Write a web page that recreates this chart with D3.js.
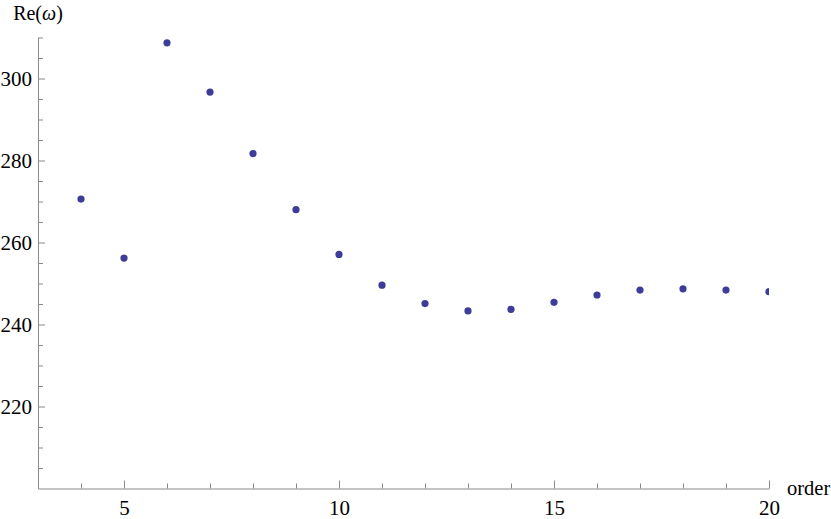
<!DOCTYPE html>
<html>
<head>
<meta charset="utf-8">
<script src="https://cdn.jsdelivr.net/npm/d3@7"></script>
<style>
  body { margin: 0; background: #fff; }
  svg text { font-family: "Liberation Serif", "Times New Roman", serif; fill: #000; }
  .axis path, .axis line { stroke: #8a8a8a; }
</style>
</head>
<body>
<div id="chart"></div>
<script>
// data
const order = [4, 5, 6, 7, 8, 9, 10, 11, 12, 13, 14, 15, 16, 17, 18, 19, 20];
const reOmega = [270.6, 256.2, 308.7, 296.7, 281.7, 268.0, 257.1, 249.6, 245.1,
                 243.3, 243.7, 245.4, 247.2, 248.4, 248.7, 248.4, 248.0];
const xMajor = [5, 10, 15, 20];
const xMinor = [4, 6, 7, 8, 9, 11, 12, 13, 14, 16, 17, 18, 19];
const yMajor = [220, 240, 260, 280, 300];
const yMinor = [205, 210, 215, 225, 230, 235, 245, 250, 255, 265, 270, 275, 285, 290, 295, 305, 310];

const W = 831, H = 519;
const x = d3.scaleLinear().domain([3, 20]).range([38, 769]);
const y = d3.scaleLinear().domain([200, 310]).range([488.5, 37.5]);

const svg = d3.select("#chart").append("svg")
    .attr("width", W)
    .attr("height", H);

svg.append("clipPath").attr("id", "clip")
  .append("rect")
    .attr("x", x(3)).attr("y", 0)
    .attr("width", x(20) - x(3)).attr("height", y(200));

// points
svg.append("g")
    .attr("clip-path", "url(#clip)")
  .selectAll("circle")
  .data(order)
  .join("circle")
    .attr("cx", d => x(d))
    .attr("cy", (d, i) => y(reOmega[i]))
    .attr("r", 3.6)
    .attr("fill", "#3d3d99");

// x axis
svg.append("g")
    .attr("class", "axis")
    .attr("transform", "translate(0," + y(200) + ")")
    .call(d3.axisBottom(x).tickValues(xMinor).tickSize(-5).tickFormat(""))
    .call(g => g.select(".domain").remove());

svg.append("g")
    .attr("class", "axis")
    .attr("transform", "translate(0," + y(200) + ")")
    .call(d3.axisBottom(x).tickValues(xMajor).tickSize(-8).tickSizeOuter(0).tickPadding(11.5))
    .selectAll("text")
    .attr("font-size", 21);

// y axis
svg.append("g")
    .attr("class", "axis")
    .attr("transform", "translate(" + x(3) + ",0)")
    .call(d3.axisLeft(y).tickValues(yMinor).tickSize(-5).tickFormat(""))
    .call(g => g.select(".domain").remove());

svg.append("g")
    .attr("class", "axis")
    .attr("transform", "translate(" + x(3) + ",0)")
    .call(d3.axisLeft(y).tickValues(yMajor).tickSize(-7).tickSizeOuter(0).tickPadding(6))
    .selectAll("text")
    .attr("font-size", 21);

svg.selectAll(".axis text").attr("fill", "#000").attr("font-family", "Liberation Serif, serif");

// axis labels
const yl = svg.append("text")
    .attr("x", x(3))
    .attr("y", 20)
    .attr("text-anchor", "middle")
    .attr("font-size", 20);
yl.append("tspan").text("Re(");
yl.append("tspan").attr("font-style", "italic").text("ω");
yl.append("tspan").text(")");

svg.append("text")
    .attr("x", 787)
    .attr("y", 495)
    .attr("font-size", 20.5)
    .text("order");
</script>
</body>
</html>
